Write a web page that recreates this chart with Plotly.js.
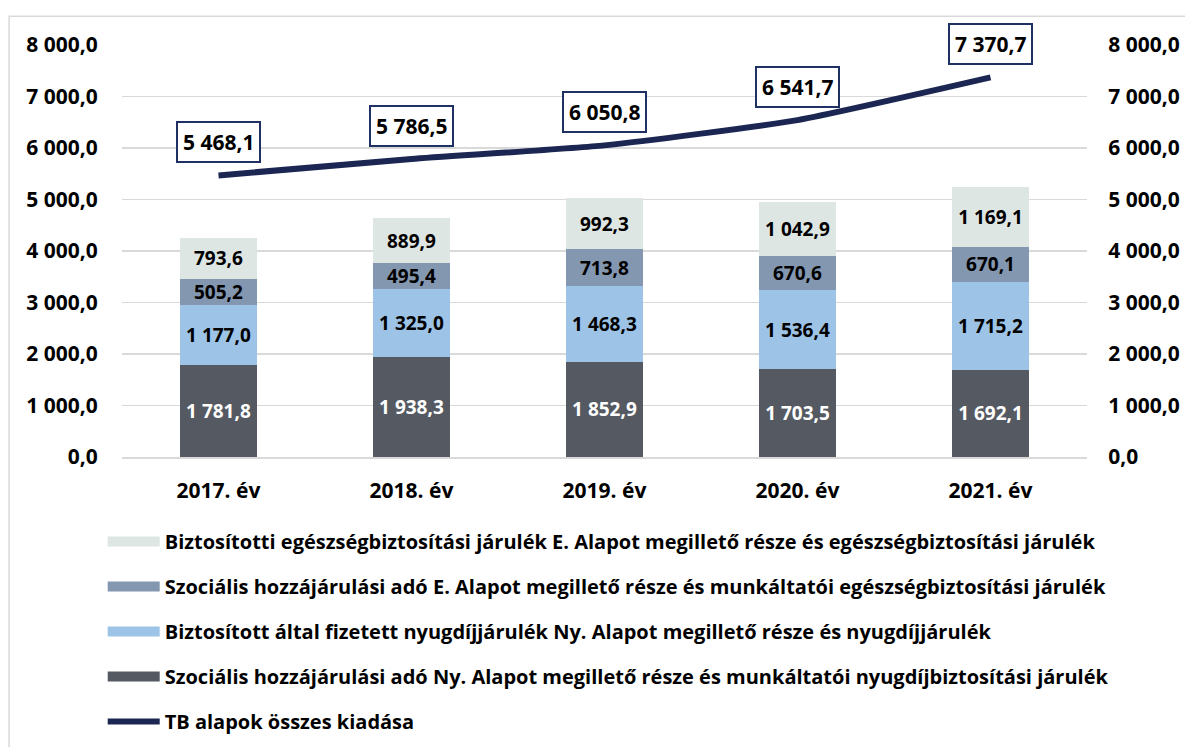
<!DOCTYPE html>
<html>
<head>
<meta charset="utf-8">
<script src="https://cdn.plot.ly/plotly-3.0.1.min.js"></script>
<style>html,body{margin:0;padding:0;background:#fff;}#chart{width:1185px;height:747px;}</style>
</head>
<body>
<div id="chart"></div>
<script>
const years = ["2017. év", "2018. év", "2019. év", "2020. év", "2021. év"];
const szocNy = [1781.8, 1938.3, 1852.9, 1703.5, 1692.1];
const biztNy = [1177.0, 1325.0, 1468.3, 1536.4, 1715.2];
const szocE = [505.2, 495.4, 713.8, 670.6, 670.1];
const biztE = [793.6, 889.9, 992.3, 1042.9, 1169.1];
const kiadas = [5468.1, 5786.5, 6050.8, 6541.7, 7370.7];

const names = {
  biztE: "Biztosítotti egészségbiztosítási járulék E. Alapot megillető része és egészségbiztosítási járulék",
  szocE: "Szociális hozzájárulási adó E. Alapot megillető része és munkáltatói egészségbiztosítási járulék",
  biztNy: "Biztosított által fizetett nyugdíjjárulék Ny. Alapot megillető része és nyugdíjjárulék",
  szocNy: "Szociális hozzájárulási adó Ny. Alapot megillető része és munkáltatói nyugdíjbiztosítási járulék",
  line: "TB alapok összes kiadása"
};

const colors = {szocNy: "#555a62", biztNy: "#9dc3e6", szocE: "#8497b0", biztE: "#dee6e3"};

function fmt(v) {
  const s = v.toFixed(1).split(".");
  const int = s[0].replace(/\B(?=(\d{3})+(?!\d))/g, " ");
  return int + "," + s[1];
}

const FONT = "'Open Sans', sans-serif";
const NAVY = "#1c2652";

function barTrace(y, key, textColor, rank) {
  return {
    type: "bar", x: years, y: y, name: names[key],
    marker: {color: colors[key], line: {width: 0}},
    texttemplate: "%{y:,.1f}",
    textposition: "inside", insidetextanchor: "middle", textangle: 0,
    constraintext: "none",
    textfont: {family: FONT, size: 19, color: textColor, weight: "bold"},
    showlegend: false, legendgroup: "g" + rank,
    hoverinfo: "skip"
  };
}

// legend keys only: all-empty points, so they draw no marks in the plot
function legendKey(key, rank) {
  return {
    type: "scatter", mode: "lines", x: years, y: years.map(() => null), name: names[key],
    line: {color: colors[key], width: 10},
    legendrank: rank, legendgroup: "g" + rank, hoverinfo: "skip"
  };
}

const data = [
  barTrace(szocNy, "szocNy", "#ffffff", 4),
  barTrace(biztNy, "biztNy", "#000000", 3),
  barTrace(szocE, "szocE", "#000000", 2),
  barTrace(biztE, "biztE", "#000000", 1),
  legendKey("biztE", 1),
  legendKey("szocE", 2),
  legendKey("biztNy", 3),
  legendKey("szocNy", 4),
  {
    type: "scatter", mode: "lines", x: years, y: kiadas, name: names.line,
    yaxis: "y2",
    line: {color: NAVY, width: 6, shape: "spline", smoothing: 0.5},
    legendrank: 5, legendgroup: "g5",
    hoverinfo: "skip"
  }
];

const annotations = years.map((yr, i) => ({
  x: yr, y: kiadas[i], xref: "x", yref: "y2",
  text: fmt(kiadas[i]), showarrow: false, yshift: 33,
  bgcolor: "#ffffff", bordercolor: "#1f3064", borderwidth: 2, borderpad: 5,
  font: {family: FONT, size: 21, color: "#000000", weight: "bold"}
}));

const tickFont = {family: FONT, size: 21, color: "#000000", weight: "bold"};

const layout = {
  width: 1185, height: 747,
  margin: {l: 122, r: 98, t: 45, b: 290},
  paper_bgcolor: "#ffffff", plot_bgcolor: "#ffffff",
  separators: ", ",
  barmode: "stack", bargap: 0.6,
  showlegend: true,
  font: {family: FONT},
  xaxis: {
    type: "category", tickfont: tickFont,
    showgrid: false, showline: true, linecolor: "#d9d9d9", linewidth: 1.5,
    ticks: "outside", ticklen: 14, tickcolor: "rgba(0,0,0,0)",
    fixedrange: true
  },
  yaxis: {
    range: [0, 8000], dtick: 1000, tickformat: ",.1f",
    tickfont: tickFont, showgrid: true, gridcolor: "#d9d9d9", gridwidth: 1.5,
    zeroline: false, showline: false,
    ticks: "outside", ticklen: 19, tickcolor: "rgba(0,0,0,0)"
  },
  yaxis2: {
    range: [0, 8000], dtick: 1000, tickformat: ",.1f",
    overlaying: "y", side: "right",
    tickfont: tickFont, showgrid: false, zeroline: false, showline: false,
    ticks: "outside", ticklen: 16, tickcolor: "rgba(0,0,0,0)"
  },
  legend: {
    orientation: "v", xref: "paper", x: -0.02, xanchor: "left",
    yref: "container", y: 0.3012, yanchor: "top",
    traceorder: "grouped", tracegroupgap: 16, itemwidth: 52,
    font: {family: FONT, size: 20, color: "#000000", weight: "bold"},
    bgcolor: "rgba(0,0,0,0)"
  },
  annotations: annotations,
  shapes: [{
    type: "rect", xref: "paper", yref: "paper",
    x0: -0.117, x1: 1.2, y0: -0.8, y1: 1.07,
    line: {color: "#d9d9d9", width: 1.5}, layer: "below"
  }]
};

Plotly.newPlot("chart", data, layout, {displayModeBar: false, staticPlot: true});
</script>
</body>
</html>
